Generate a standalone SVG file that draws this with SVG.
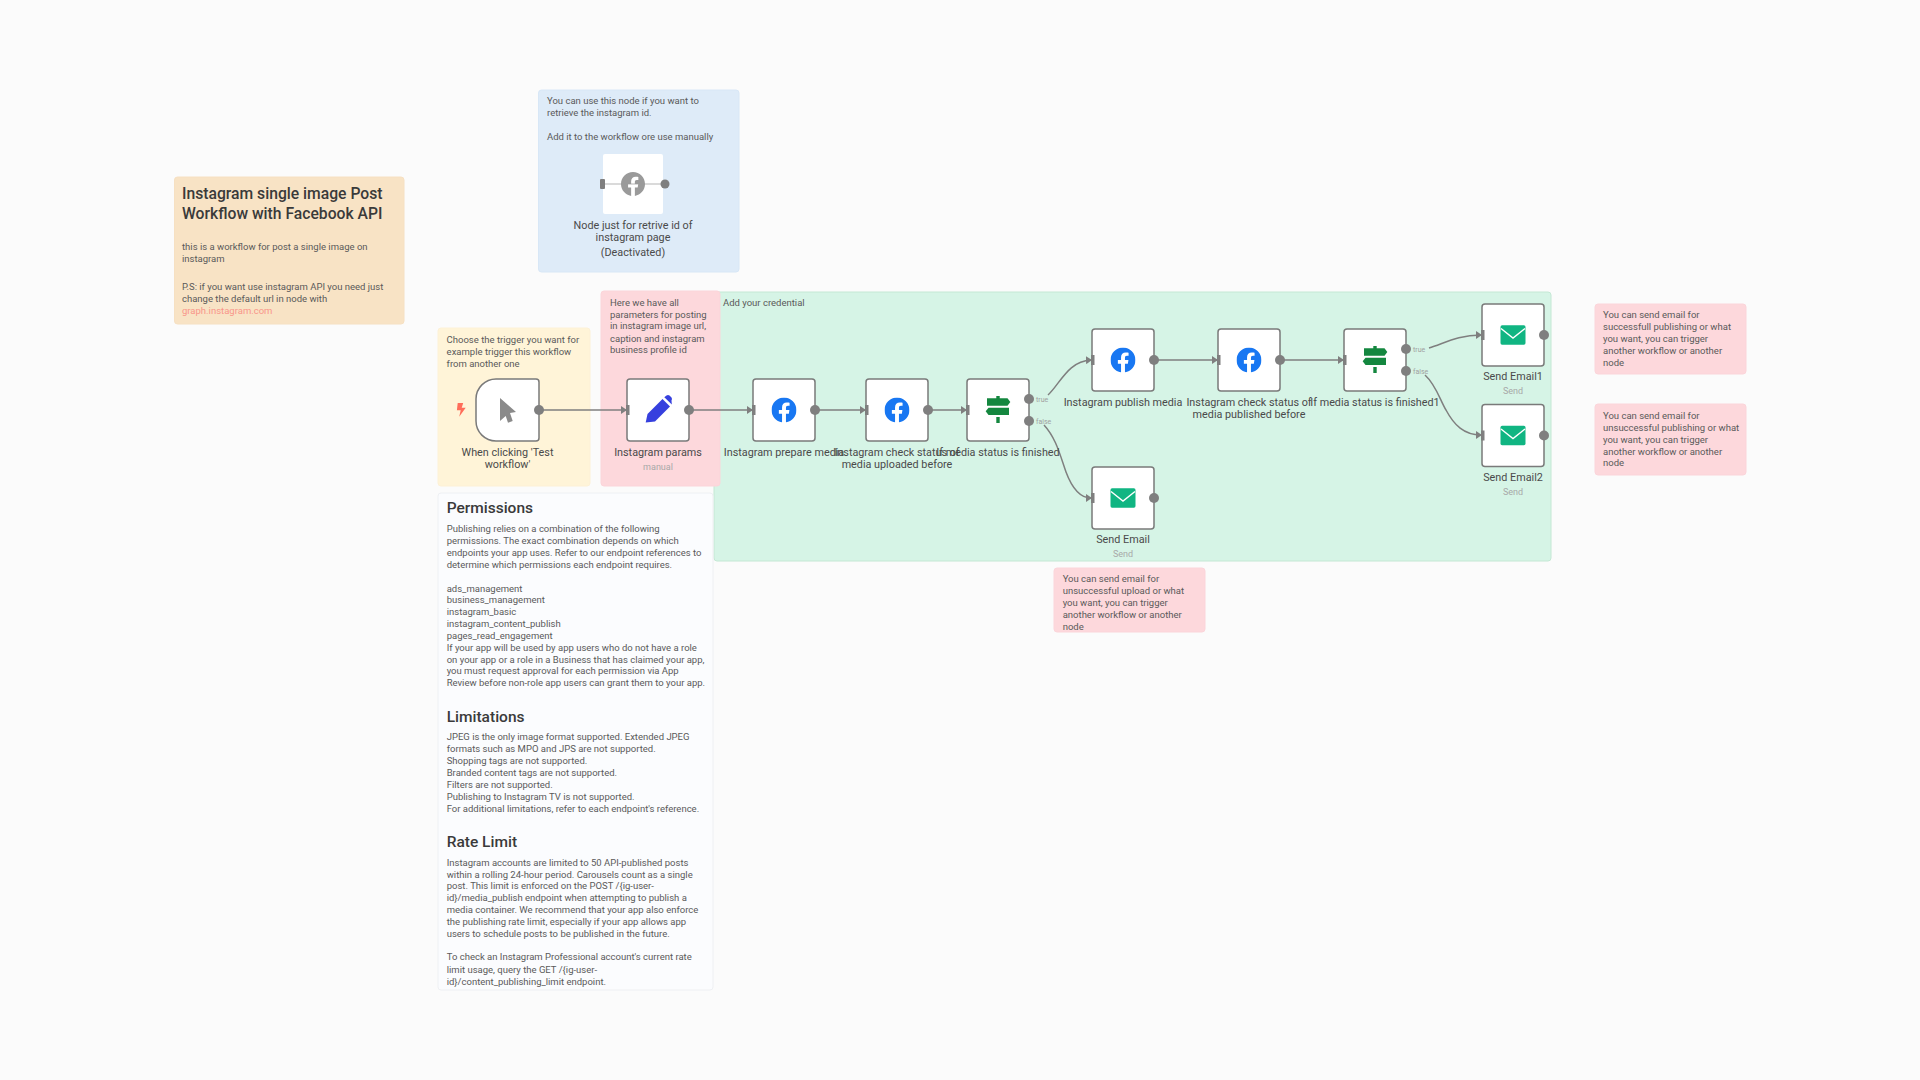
<svg xmlns="http://www.w3.org/2000/svg" width="1920" height="1080" viewBox="0 0 1920 1080">
<style>
text{font-family:Roboto,Inter,"Noto Sans","Liberation Sans",sans-serif}
.n{font-size:9.5px;fill:#5a5a5a}
.h{font-size:15.5px;font-weight:500;fill:#3a3a3a}
.t{font-size:15.7px;font-weight:500;fill:#3a3a3a}
.l{font-size:10.8px;fill:#4a4a4a;text-anchor:middle}
.s{font-size:9px;fill:#a8a8a8;text-anchor:middle}
.b{font-size:7px;fill:#a0a0a0}
.nd{fill:#fff;stroke:#7a7a7a;stroke-width:1.5}
.pr{fill:#7f7f7f}
.c{fill:none;stroke:#7f7f7f;stroke-width:1.5}
.card{stroke-width:1;rx:3}
</style>
<defs>
<marker id="ah" markerWidth="6" markerHeight="8" refX="5" refY="4" orient="auto" markerUnits="userSpaceOnUse"><path d="M0 0L6 4L0 8Z" fill="#7f7f7f"/></marker>
<symbol id="fb" viewBox="0 0 24 24"><path d="M24 12.073c0-6.627-5.373-12-12-12s-12 5.373-12 12c0 5.99 4.388 10.954 10.125 11.854v-8.385H7.078v-3.47h3.047V9.43c0-3.007 1.792-4.669 4.533-4.669 1.312 0 2.686.235 2.686.235v2.953H15.83c-1.491 0-1.956.925-1.956 1.874v2.25h3.328l-.532 3.47h-2.796v8.385C19.612 23.027 24 18.062 24 12.073z"/></symbol>
<g id="mail"><rect x="-12.5" y="-9.7" width="25" height="19.4" rx="1.6" fill="#10b582"/><path d="M-12 -6.5L0 3L12 -6.5" fill="none" stroke="#fff" stroke-width="1.4"/></g>
<g id="sign" fill="#14873f"><rect x="-1.7" y="-14" width="3.4" height="4"/><path d="M-11 -11.7H9.5L12.3 -8L9.5 -4.3H-11Z"/><path d="M-9.5 -2.3H11V5H-9.5L-12.3 1.3Z"/><rect x="-1.7" y="7" width="3.4" height="6"/></g>
</defs>
<rect width="1920" height="1080" fill="#fbfbfb"/>

<g id="note-title"><rect class="card" x="174.500" y="177" width="229.500" height="147" fill="#f8e3c5" stroke="#f6e0c2"/>
<text class="t" x="182" y="199">Instagram single image Post</text><text class="t" x="182" y="219">Workflow with Facebook API</text>
<text class="n" x="182" y="250">this is a workflow for post a single image on</text><text class="n" x="182" y="262">instagram</text>
<text class="n" x="182" y="290">P.S: if you want use instagram API you need just</text><text class="n" x="182" y="302">change the default url in node with</text><text class="n" x="182" y="314" style="fill:#f8968a">graph.instagram.com</text></g>

<g id="note-blue"><rect class="card" x="538.500" y="90" width="200.500" height="182" fill="#deebf8" stroke="#d8e7f6"/>
<text class="n" x="547" y="104">You can use this node if you want to</text><text class="n" x="547" y="116">retrieve the instagram id.</text><text class="n" x="547" y="140">Add it to the workflow ore use manually</text></g>

<g id="note-green"><rect class="card" x="714" y="292" width="837" height="269" fill="#d6f4e6" stroke="#c4e8d4"/>
<text class="n" x="723" y="306">Add your credential</text></g>
<g id="note-yellow"><rect class="card" x="438" y="328" width="152" height="158" fill="#fff4d8" stroke="#fdf1d6"/>
<text class="n" x="446.600" y="343">Choose the trigger you want for</text><text class="n" x="446.600" y="355">example trigger this workflow</text><text class="n" x="446.600" y="367">from another one</text></g>
<g id="note-pink"><rect class="card" x="601" y="291" width="119" height="195" fill="#fdd8dc" stroke="#fbd5da"/>
<text class="n" x="610" y="306">Here we have all</text><text class="n" x="610" y="318">parameters for posting</text><text class="n" x="610" y="329">in instagram image url,</text><text class="n" x="610" y="342">caption and instagram</text><text class="n" x="610" y="353">business profile id</text></g>

<g id="note-permissions"><rect class="card" x="438" y="493" width="275" height="497" fill="#fbfcfe" stroke="#eef0f3"/>
<text class="h" x="446.700" y="513">Permissions</text>
<text class="n" x="446.700" y="531.700">Publishing relies on a combination of the following</text>
<text class="n" x="446.700" y="543.700">permissions. The exact combination depends on which</text>
<text class="n" x="446.700" y="555.700">endpoints your app uses. Refer to our endpoint references to</text>
<text class="n" x="446.700" y="567.700">determine which permissions each endpoint requires.</text>
<text class="n" x="446.700" y="591.700">ads_management</text>
<text class="n" x="446.700" y="602.700">business_management</text>
<text class="n" x="446.700" y="614.700">instagram_basic</text>
<text class="n" x="446.700" y="626.700">instagram_content_publish</text>
<text class="n" x="446.700" y="638.700">pages_read_engagement</text>
<text class="n" x="446.700" y="650.700">If your app will be used by app users who do not have a role</text>
<text class="n" x="446.700" y="662.700">on your app or a role in a Business that has claimed your app,</text>
<text class="n" x="446.700" y="674">you must request approval for each permission via App</text>
<text class="n" x="446.700" y="685.700">Review before non-role app users can grant them to your app.</text>
<text class="h" x="446.700" y="722">Limitations</text>
<text class="n" x="446.700" y="739.700">JPEG is the only image format supported. Extended JPEG</text>
<text class="n" x="446.700" y="751.700">formats such as MPO and JPS are not supported.</text>
<text class="n" x="446.700" y="763.700">Shopping tags are not supported.</text>
<text class="n" x="446.700" y="775.700">Branded content tags are not supported.</text>
<text class="n" x="446.700" y="787.700">Filters are not supported.</text>
<text class="n" x="446.700" y="799.700">Publishing to Instagram TV is not supported.</text>
<text class="n" x="446.700" y="811.700">For additional limitations, refer to each endpoint's reference.</text>
<text class="h" x="446.700" y="847">Rate Limit</text>
<text class="n" x="446.700" y="865.700">Instagram accounts are limited to 50 API-published posts</text>
<text class="n" x="446.700" y="877.700">within a rolling 24-hour period. Carousels count as a single</text>
<text class="n" x="446.700" y="888.700">post. This limit is enforced on the POST /{ig-user-</text>
<text class="n" x="446.700" y="900.700">id}/media_publish endpoint when attempting to publish a</text>
<text class="n" x="446.700" y="912.700">media container. We recommend that your app also enforce</text>
<text class="n" x="446.700" y="924.700">the publishing rate limit, especially if your app allows app</text>
<text class="n" x="446.700" y="936.700">users to schedule posts to be published in the future.</text>
<text class="n" x="446.700" y="960.300">To check an Instagram Professional account's current rate</text>
<text class="n" x="446.700" y="972.700">limit usage, query the GET /{ig-user-</text>
<text class="n" x="446.700" y="984.700">id}/content_publishing_limit endpoint.</text></g>

<g id="note-send-upload"><rect class="card" x="1054" y="568" width="151" height="64" fill="#fdd8dc" stroke="#fbd5da"/>
<text class="n" x="1062.700" y="581.700">You can send email for</text><text class="n" x="1062.700" y="593.700">unsuccessful upload or what</text><text class="n" x="1062.700" y="605.700">you want, you can trigger</text><text class="n" x="1062.700" y="617.700">another workflow or another</text><text class="n" x="1062.700" y="630">node</text></g>
<g id="note-send-ok"><rect class="card" x="1595" y="304" width="151" height="70" fill="#fdd8dc" stroke="#fbd5da"/>
<text class="n" x="1603" y="317.700">You can send email for</text><text class="n" x="1603" y="329.700">successfull publishing or what</text><text class="n" x="1603" y="341.700">you want, you can trigger</text><text class="n" x="1603" y="353.700">another workflow or another</text><text class="n" x="1603" y="365.700">node</text></g>
<g id="note-send-fail"><rect class="card" x="1595" y="404" width="151" height="71" fill="#fdd8dc" stroke="#fbd5da"/>
<text class="n" x="1603" y="418.700">You can send email for</text><text class="n" x="1603" y="430.700">unsuccessful publishing or what</text><text class="n" x="1603" y="442.700">you want, you can trigger</text><text class="n" x="1603" y="454.700">another workflow or another</text><text class="n" x="1603" y="466">node</text></g>

<g id="connectors">
<path class="c" marker-end="url(#ah)" d="M539 410H626"/>
<path class="c" marker-end="url(#ah)" d="M689 410H752"/>
<path class="c" marker-end="url(#ah)" d="M815 410H865"/>
<path class="c" marker-end="url(#ah)" d="M928 410H966"/>
<path class="c" marker-end="url(#ah)" d="M1154 360H1217"/>
<path class="c" marker-end="url(#ah)" d="M1280 360H1343"/>
<path class="c" marker-end="url(#ah)" d="M1048 395C1060 384 1068 361 1091 360"/>
<path class="c" marker-end="url(#ah)" d="M1044 425C1056 438 1060 455 1066 472C1072 488 1080 498 1091 498"/>
<path class="c" marker-end="url(#ah)" d="M1429 348C1445 343 1458 335 1481 335"/>
<path class="c" marker-end="url(#ah)" d="M1425 375C1436 385 1440 400 1446 410C1454 425 1464 435 1481 435"/>
<text class="b" x="1036" y="402">true</text><text class="b" x="1036" y="424">false</text>
<text class="b" x="1413" y="352">true</text><text class="b" x="1413" y="374">false</text>
</g>

<g id="node-facebook-id"><rect x="603" y="154" width="60" height="60" rx="2" fill="#fff"/>
<path d="M603 184H663" stroke="#b5b5b5" stroke-width="1"/><rect x="600" y="179" width="5" height="10" rx="1" fill="#7f7f7f"/><circle cx="665" cy="184" r="4.500" fill="#7f7f7f"/>
<use href="#fb" x="621" y="172" width="24" height="24" fill="#9a9a9a"/>
<text class="l" x="633" y="229">Node just for retrive id of</text><text class="l" x="633" y="241">instagram page</text><text class="l" x="633" y="256">(Deactivated)</text></g>

<g id="node-trigger"><path d="M457.700 403h5.500l-1.500 4.700h4l-6.500 9 1.500-6.500h-3.800z" fill="#ff6d5a"/>
<path class="nd" d="M496 379H536a3 3 0 0 1 3 3V438a3 3 0 0 1-3 3H496a20 20 0 0 1-20-20V399a20 20 0 0 1 20-20Z"/>
<path d="M500 398L516 412L510 413L512.700 421L508 422.700L505.700 416L500 421Z" fill="#8a8a8a"/>
<circle class="pr" cx="539" cy="410" r="5"/>
<text class="l" x="507.500" y="456">When clicking 'Test</text><text class="l" x="507.500" y="468">workflow'</text></g>

<g id="node-params"><rect class="nd" x="627" y="379" width="62" height="62" rx="3"/><rect class="pr" x="626" y="405" width="3.500" height="10"/>
<path d="M645.700 422.500L647.500 414L662.500 399L670 406.500L655 421.500Z" fill="#3640de"/><path d="M664.300 397.200L666.500 395.500Q668 394.500 669.500 395.500L671.500 397.500Q672.500 399 671.500 400.500L671.800 404.500Z" fill="#3640de"/>
<circle class="pr" cx="689" cy="410" r="5"/>
<text class="l" x="658" y="456">Instagram params</text><text class="s" x="658" y="470">manual</text></g>

<g id="node-prepare"><rect class="nd" x="753" y="379" width="62" height="62" rx="3"/><rect class="pr" x="752" y="405" width="3.500" height="10"/>
<use href="#fb" x="771.500" y="397.500" width="25" height="25" fill="#1877f2"/><circle class="pr" cx="815" cy="410" r="5"/>
<text class="l" x="784" y="456">Instagram prepare media</text></g>

<g id="node-check"><rect class="nd" x="866" y="379" width="62" height="62" rx="3"/><rect class="pr" x="865" y="405" width="3.500" height="10"/>
<use href="#fb" x="884.500" y="397.500" width="25" height="25" fill="#1877f2"/><circle class="pr" cx="928" cy="410" r="5"/>
<text class="l" x="897" y="456">Instagram check status of</text><text class="l" x="897" y="468">media uploaded before</text></g>

<g id="node-if"><rect class="nd" x="967" y="379" width="62" height="62" rx="3"/><rect class="pr" x="966" y="405" width="3.500" height="10"/>
<use href="#sign" x="998" y="410"/><circle class="pr" cx="1029" cy="399" r="5"/><circle class="pr" cx="1029" cy="421" r="5"/>
<text class="l" x="998" y="456">If media status is finished</text></g>

<g id="node-publish"><rect class="nd" x="1092" y="329" width="62" height="62" rx="3"/><rect class="pr" x="1091" y="355" width="3.500" height="10"/>
<use href="#fb" x="1110.500" y="347.500" width="25" height="25" fill="#1877f2"/><circle class="pr" cx="1154" cy="360" r="5"/>
<text class="l" x="1123" y="406">Instagram publish media</text></g>

<g id="node-send-email"><rect class="nd" x="1092" y="467" width="62" height="62" rx="3"/><rect class="pr" x="1091" y="493" width="3.500" height="10"/>
<use href="#mail" x="1123" y="498"/><circle class="pr" cx="1154" cy="498" r="5"/>
<text class="l" x="1123" y="543">Send Email</text><text class="s" x="1123" y="557">Send</text></g>

<g id="node-check2"><rect class="nd" x="1218" y="329" width="62" height="62" rx="3"/><rect class="pr" x="1217" y="355" width="3.500" height="10"/>
<use href="#fb" x="1236.500" y="347.500" width="25" height="25" fill="#1877f2"/><circle class="pr" cx="1280" cy="360" r="5"/>
<text class="l" x="1249" y="406">Instagram check status of</text><text class="l" x="1249" y="418">media published before</text></g>

<g id="node-if1"><rect class="nd" x="1344" y="329" width="62" height="62" rx="3"/><rect class="pr" x="1343" y="355" width="3.500" height="10"/>
<use href="#sign" x="1375" y="360"/><circle class="pr" cx="1406" cy="349" r="5"/><circle class="pr" cx="1406" cy="371" r="5"/>
<text class="l" x="1375" y="406">If media status is finished1</text></g>

<g id="node-email1"><rect class="nd" x="1482" y="304" width="62" height="62" rx="3"/><rect class="pr" x="1481" y="330" width="3.500" height="10"/>
<use href="#mail" x="1513" y="335"/><circle class="pr" cx="1544" cy="335" r="5"/>
<text class="l" x="1513" y="380">Send Email1</text><text class="s" x="1513" y="394">Send</text></g>

<g id="node-email2"><rect class="nd" x="1482" y="404.500" width="62" height="62" rx="3"/><rect class="pr" x="1481" y="430.500" width="3.500" height="10"/>
<use href="#mail" x="1513" y="435.500"/><circle class="pr" cx="1544" cy="435.500" r="5"/>
<text class="l" x="1513" y="481">Send Email2</text><text class="s" x="1513" y="495">Send</text></g>
</svg>
